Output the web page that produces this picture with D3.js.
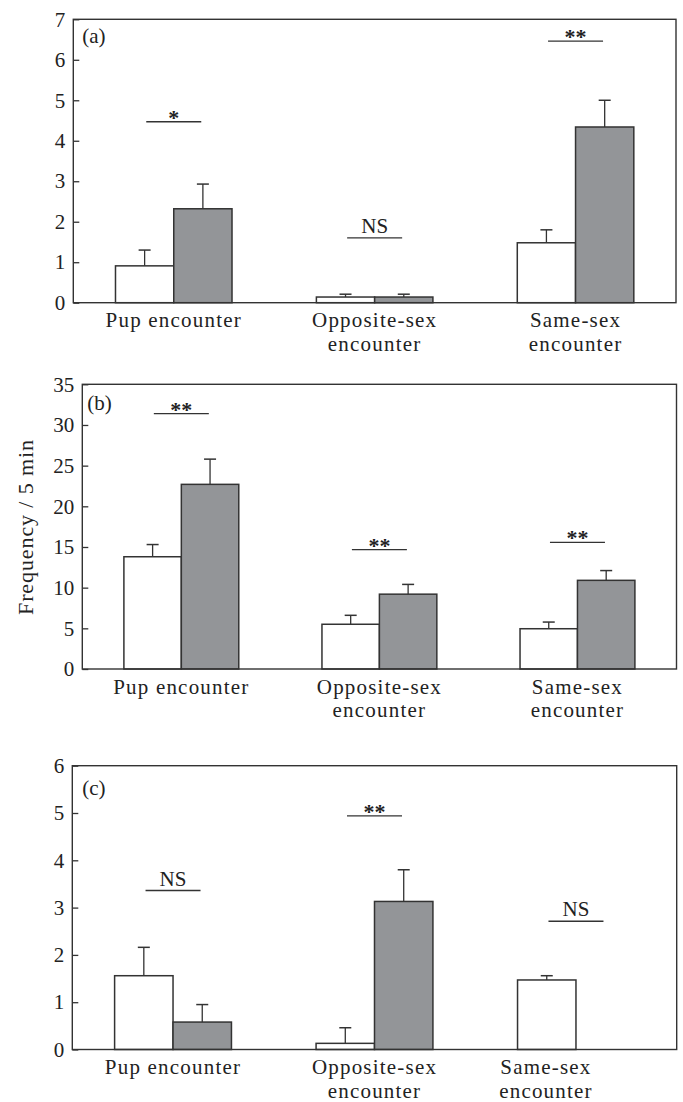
<!DOCTYPE html>
<html>
<head>
<meta charset="utf-8">
<script src="https://cdn.jsdelivr.net/npm/d3@7"></script>
<style>
  body { margin: 0; background: #fff; }
  svg { display: block; }
  text { font-family: "Liberation Serif", "Times New Roman", serif; fill: #222; }
  .tick line { stroke: #333; stroke-width: 1.3; }
</style>
</head>
<body>
<svg id="chart" width="683" height="1102"></svg>
<script>
// category labels (split over lines as printed)
var categoryLines = [["Pup encounter"], ["Opposite-sex", "encounter"], ["Same-sex", "encounter"]];

// panel (a)
var aWhite = [0.91, 0.14, 1.48];
var aWhiteSE = [0.39, 0.07, 0.32];
var aGray = [2.32, 0.14, 4.34];
var aGraySE = [0.61, 0.07, 0.66];
var aSig = ["*", "NS", "**"];
var aSigY = [4.47, 1.60, 6.46];
var aTicks = [0, 1, 2, 3, 4, 5, 6, 7];

// panel (b)
var bWhite = [13.8, 5.5, 4.95];
var bWhiteSE = [1.5, 1.1, 0.82];
var bGray = [22.7, 9.2, 10.9];
var bGraySE = [3.1, 1.2, 1.2];
var bSig = ["**", "**", "**"];
var bSigY = [31.4, 14.67, 15.57];
var bTicks = [0, 5, 10, 15, 20, 25, 30, 35];

// panel (c)
var cWhite = [1.56, 0.13, 1.47];
var cWhiteSE = [0.6, 0.33, 0.09];
var cGray = [0.58, 3.13, null];
var cGraySE = [0.37, 0.67, null];
var cSig = ["NS", "**", "NS"];
var cSigY = [3.36, 4.94, 2.71];
var cTicks = [0, 1, 2, 3, 4, 5, 6];

var yTitle = "Frequency / 5 min";

var panels = [
  {tag: "(a)", white: aWhite, whiteSE: aWhiteSE, gray: aGray, graySE: aGraySE, sig: aSig, sigY: aSigY, ticks: aTicks,
   left: 73.3, right: 676, top: 19.3, bottom: 302.7, tagX: 9, tagY: 23.5, labelShift: [0, 0, 0]},
  {tag: "(b)", white: bWhite, whiteSE: bWhiteSE, gray: bGray, graySE: bGraySE, sig: bSig, sigY: bSigY, ticks: bTicks,
   left: 82.3, right: 676.5, top: 384.3, bottom: 669, tagX: 5, tagY: 26, labelShift: [0, 0, 0]},
  {tag: "(c)", white: cWhite, whiteSE: cWhiteSE, gray: cGray, graySE: cGraySE, sig: cSig, sigY: cSigY, ticks: cTicks,
   left: 72.3, right: 676.7, top: 765.7, bottom: 1049.5, tagX: 10, tagY: 29, labelShift: [0, 0, -30]}
];

var svg = d3.select("#chart");
var stroke = "#333";
var grayFill = "#939598";

panels.forEach(function(p) {
  var g = svg.append("g");

  var x = d3.scaleBand()
      .domain(d3.range(categoryLines.length))
      .range([p.left, p.right]);
  var y = d3.scaleLinear()
      .domain([0, d3.max(p.ticks)])
      .range([p.bottom, p.top]);

  var bw = x.bandwidth() * 0.29;
  var center = function(i) { return x(i) + x.bandwidth() / 2; };

  // y axis, ticks pointing inward
  g.append("g")
      .attr("transform", "translate(" + p.left + ",0)")
      .call(d3.axisLeft(y).tickValues(p.ticks).tickFormat(d3.format("d"))
        .tickSizeInner(-6).tickSizeOuter(0).tickPadding(8))
      .call(function(a) { a.select(".domain").remove(); })
      .selectAll("text")
      .style("font-size", "21px")
      .style("font-family", "'Liberation Serif', serif")
      .attr("fill", "#222");

  // bars: white series left of centre, gray right
  var series = [
    {vals: p.white, se: p.whiteSE, fill: "#fff", off: -bw},
    {vals: p.gray, se: p.graySE, fill: grayFill, off: 0}
  ];

  series.forEach(function(s) {
    var data = s.vals.map(function(v, i) { return {i: i, v: v, se: s.se[i]}; })
        .filter(function(d) { return d.v != null; });

    // error bars (upper only)
    g.selectAll(null).data(data).enter().append("line")
        .attr("x1", function(d) { return center(d.i) + s.off + bw / 2; })
        .attr("x2", function(d) { return center(d.i) + s.off + bw / 2; })
        .attr("y1", function(d) { return y(d.v); })
        .attr("y2", function(d) { return y(d.v + d.se); })
        .attr("stroke", stroke).attr("stroke-width", 1.3);
    g.selectAll(null).data(data).enter().append("line")
        .attr("x1", function(d) { return center(d.i) + s.off + bw / 2 - 6; })
        .attr("x2", function(d) { return center(d.i) + s.off + bw / 2 + 6; })
        .attr("y1", function(d) { return y(d.v + d.se); })
        .attr("y2", function(d) { return y(d.v + d.se); })
        .attr("stroke", stroke).attr("stroke-width", 1.5);

    g.selectAll(null).data(data).enter().append("rect")
        .attr("x", function(d) { return center(d.i) + s.off; })
        .attr("y", function(d) { return y(d.v); })
        .attr("width", bw)
        .attr("height", function(d) { return y(0) - y(d.v); })
        .attr("fill", s.fill)
        .attr("stroke", stroke)
        .attr("stroke-width", 1.5);
  });

  // frame
  g.append("rect")
      .attr("x", p.left).attr("y", p.top)
      .attr("width", p.right - p.left).attr("height", p.bottom - p.top)
      .attr("fill", "none").attr("stroke", stroke).attr("stroke-width", 1.4);

  // significance lines and marks
  var sig = p.sig.map(function(t, i) { return {i: i, t: t, y: p.sigY[i]}; });
  g.selectAll(null).data(sig).enter().append("line")
      .attr("x1", function(d) { return center(d.i) - 27.5; })
      .attr("x2", function(d) { return center(d.i) + 27.5; })
      .attr("y1", function(d) { return y(d.y); })
      .attr("y2", function(d) { return y(d.y); })
      .attr("stroke", stroke).attr("stroke-width", 1.4);
  g.selectAll(null).data(sig).enter().append("text")
      .attr("x", function(d) { return center(d.i); })
      .attr("y", function(d) { return y(d.y) + (d.t === "NS" ? -5 : 3); })
      .attr("text-anchor", "middle")
      .style("font-size", function(d) { return d.t === "NS" ? "21px" : "22px"; })
      .style("font-weight", function(d) { return d.t === "NS" ? "normal" : "bold"; })
      .text(function(d) { return d.t; });

  // category labels, one text per printed line
  categoryLines.forEach(function(lines, i) {
    lines.forEach(function(l, k) {
      g.append("text")
          .attr("text-anchor", "middle")
          .attr("x", center(i) + p.labelShift[i])
          .attr("y", p.bottom + 24.5 + k * 23.5)
          .style("font-size", "21px")
          .style("letter-spacing", "1.2px")
          .text(l);
    });
  });

  // panel tag
  g.append("text")
      .attr("x", p.left + p.tagX)
      .attr("y", p.top + p.tagY)
      .style("font-size", "21px")
      .text(p.tag);
});

// shared y title beside panel (b)
svg.append("text")
    .attr("transform", "translate(33,527) rotate(-90)")
    .attr("text-anchor", "middle")
    .style("font-size", "22px")
    .style("letter-spacing", "0.9px")
    .text(yTitle);
</script>
</body>
</html>
